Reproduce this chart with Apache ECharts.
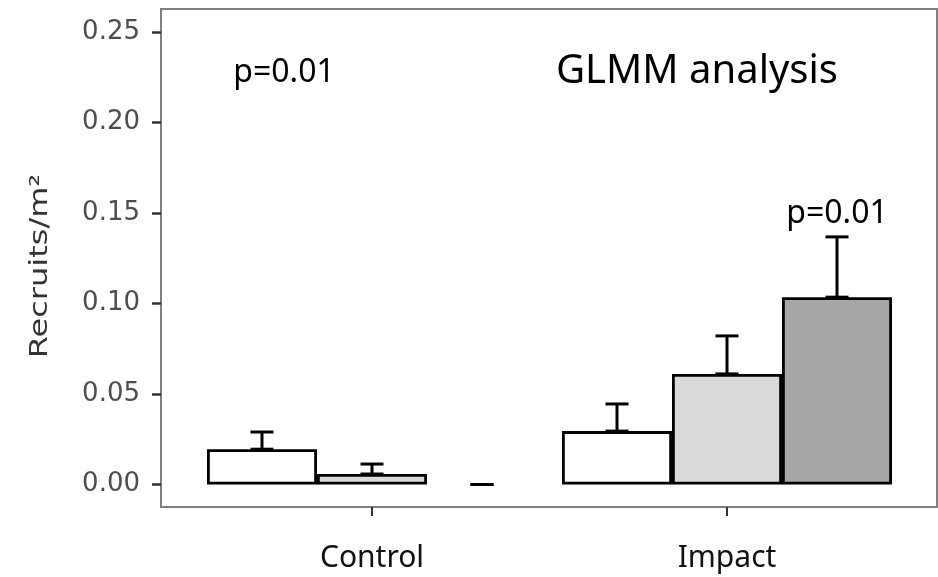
<!DOCTYPE html>
<html>
<head>
<meta charset="utf-8">
<script src="https://cdn.jsdelivr.net/npm/echarts@6/dist/echarts.min.js"></script>
<style>
html,body{margin:0;padding:0;background:#fff;}
#main{width:938px;height:577px;}
</style>
</head>
<body>
<div id="main"></div>
<script>
var chart = echarts.init(document.getElementById('main'));

// data
var sites = ['Control', 'Impact'];
var groups = ['Group 1', 'Group 2', 'Group 3'];
var group1 = [0.0195, 0.0295];
var group2 = [0.0058, 0.0611];
var group3 = [0, 0.1035];
var se1 = [0.0095, 0.015];
var se2 = [0.0055, 0.021];
var se3 = [0, 0.0333];
var yTicks = [0, 0.05, 0.10, 0.15, 0.20, 0.25];

var means = [group1, group2, group3];
var ses = [se1, se2, se3];
var fills = ['#ffffff', '#d9d9d9', '#a6a6a6'];
var BAR_W = 110;

var barSeries = groups.map(function (g, i) {
    return {
        name: g,
        type: 'bar',
        xAxisIndex: 1,
        yAxisIndex: 1,
        barWidth: BAR_W,
        barGap: '0%',
        data: means[i].map(function (v) {
            // a zero bar shows no outline
            return v === 0 ? { value: v, itemStyle: { borderWidth: 0 } } : v;
        }),
        itemStyle: { color: fills[i], borderColor: '#000', borderWidth: 2.8 },
        z: 3
    };
});

// error bars: [site index, mean, se, group index]
var errData = [];
means.forEach(function (arr, gi) {
    arr.forEach(function (v, si) {
        errData.push([si, v, ses[gi][si], gi]);
    });
});

var errSeries = {
    type: 'custom',
    xAxisIndex: 1,
    yAxisIndex: 1,
    z: 5,
    data: errData,
    renderItem: function (params, api) {
        var si = api.value(0), m = api.value(1), s = api.value(2), gi = api.value(3);
        var off = (gi - 1) * BAR_W;
        var lo = api.coord([si, m]);
        var hi = api.coord([si, m + s]);
        var x = lo[0] + off;
        var cap = 11.5;
        var st = { stroke: '#000', lineWidth: 3 };
        return {
            type: 'group',
            children: [
                { type: 'line', shape: { x1: x, y1: lo[1], x2: x, y2: hi[1] }, style: st },
                { type: 'line', shape: { x1: x - cap, y1: hi[1], x2: x + cap, y2: hi[1] }, style: st },
                { type: 'line', shape: { x1: x - cap, y1: lo[1], x2: x + cap, y2: lo[1] }, style: st }
            ]
        };
    }
};

var option = {
    backgroundColor: '#fff',
    animation: false,
    grid: [
        // frame
        { left: 161, top: 9, width: 776, height: 498, show: true, borderColor: '#808080', borderWidth: 2, backgroundColor: '#fff', outerBoundsMode: 'none' },
        // plotting area
        { left: 194.5, right: 33.5, top: 32, bottom: 92.5, outerBoundsMode: 'none' },
        // category axis along the frame bottom
        { left: 194.5, right: 33.5, top: 9, bottom: 70, outerBoundsMode: 'none' }
    ],
    xAxis: [
        { gridIndex: 0, type: 'value', show: false },
        { gridIndex: 1, type: 'category', data: sites, show: false },
        {
            gridIndex: 2,
            type: 'category',
            data: sites,
            axisLine: { show: false },
            axisTick: { show: true, alignWithLabel: true, length: 9, lineStyle: { color: '#333', width: 2 } },
            axisLabel: { margin: 35, color: '#111', fontSize: 30, lineHeight: 32, fontFamily: 'Noto Sans' }
        }
    ],
    yAxis: [
        { gridIndex: 0, type: 'value', show: false },
        {
            gridIndex: 1,
            type: 'value',
            min: yTicks[0],
            max: yTicks[yTicks.length - 1],
            interval: 0.05,
            offset: 33.5,
            axisLine: { show: false },
            splitLine: { show: false },
            axisTick: { show: true, length: 9, lineStyle: { color: '#333', width: 2.5 } },
            axisLabel: {
                margin: 21,
                color: '#4d4d4d',
                fontSize: 26,
                fontFamily: 'DejaVu Sans',
                formatter: function (v) { return v.toFixed(2); }
            }
        },
        { gridIndex: 2, type: 'value', show: false }
    ],
    graphic: [
        {
            type: 'text', x: 40, y: 266, rotation: Math.PI / 2, scaleX: 1.28,
            style: { text: 'Recruits/m²', fill: '#333', font: '25px "DejaVu Sans"', align: 'center', verticalAlign: 'middle' }
        },
        {
            type: 'text', x: 284, y: 73,
            style: { text: 'p=0.01', fill: '#000', font: '32px "Noto Sans"', align: 'center', verticalAlign: 'middle' }
        },
        {
            type: 'text', x: 697, y: 72,
            style: { text: 'GLMM analysis', fill: '#000', font: '40px "Noto Sans"', align: 'center', verticalAlign: 'middle' }
        },
        {
            type: 'text', x: 837, y: 214,
            style: { text: 'p=0.01', fill: '#000', font: '32px "Noto Sans"', align: 'center', verticalAlign: 'middle' }
        }
    ],
    series: barSeries.concat([errSeries])
};

chart.setOption(option);
</script>
</body>
</html>
